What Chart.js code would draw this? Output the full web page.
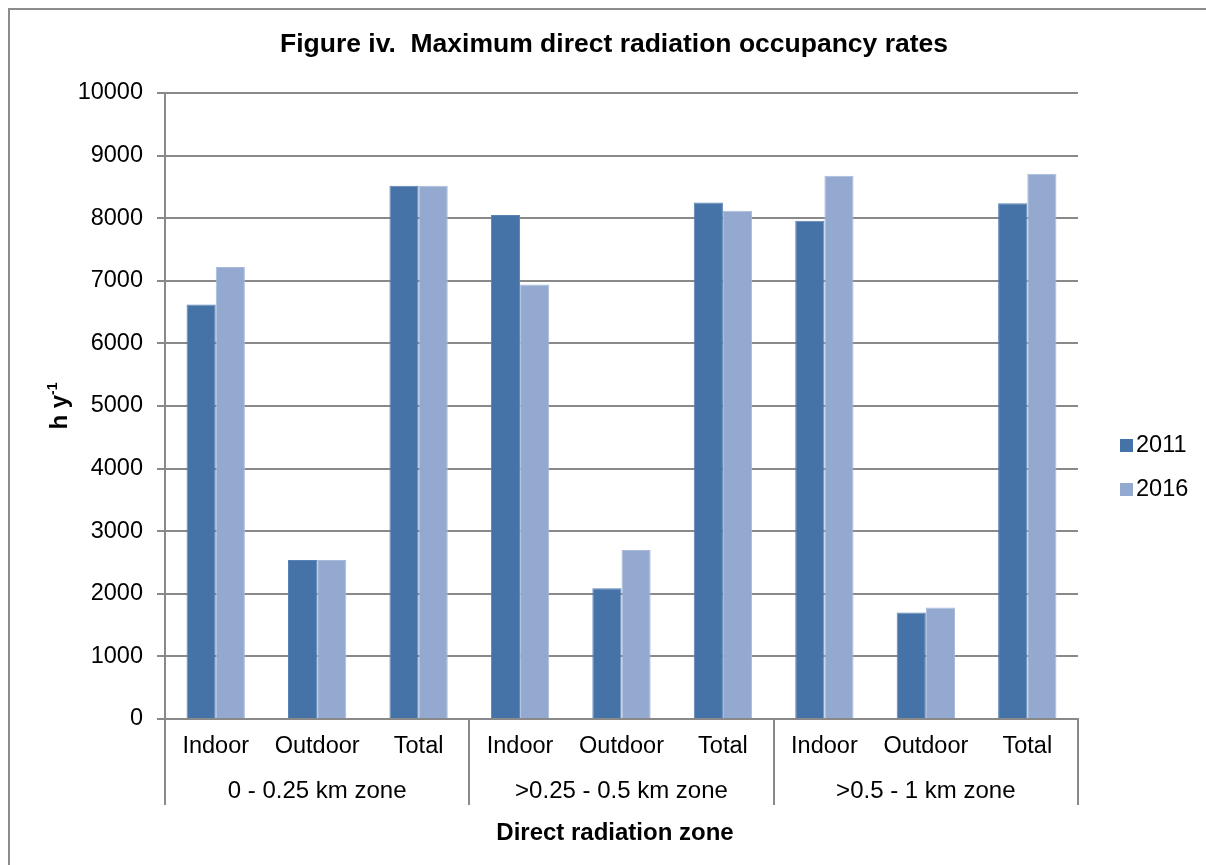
<!DOCTYPE html>
<html>
<head>
<meta charset="utf-8">
<title>Maximum direct radiation occupancy rates</title>
<script src="https://cdn.jsdelivr.net/npm/chart.js@4/dist/chart.umd.min.js"></script>
<style>
  html, body { margin: 0; padding: 0; background: #ffffff; }
  #wrap { width: 1206px; height: 865px; position: relative; }
</style>
</head>
<body>
<div id="wrap"><canvas id="chart" width="1206" height="865"></canvas></div>
<script>
// ---- data ----
const zones = ['0 - 0.25 km zone', '>0.25 - 0.5 km zone', '>0.5 - 1 km zone'];
const settings = ['Indoor', 'Outdoor', 'Total'];
const seriesNames = ['2011', '2016'];
const hours2011 = [6620, 2540, 8520, 8050, 2090, 8250, 7960, 1700, 8240];
const hours2016 = [7220, 2540, 8520, 6940, 2700, 8120, 8680, 1780, 8710];
const yMin = 0, yMax = 10000, yStep = 1000;

const chartTitle = 'Figure iv.  Maximum direct radiation occupancy rates';
const xTitle = 'Direct radiation zone';
const yTitleMain = 'h y';
const yTitleSup = '-1';

// ---- styling ----
const FONT = "'Liberation Sans', Arial, Helvetica, sans-serif";
const GRID = '#898989';
const COLOR_2011 = '#4572a7';
const COLOR_2016 = '#94a9d0';

const categoryLabels = zones.flatMap(() => settings);

// Outer frame, titles, zone labels with separators, and the legend
const decorations = {
  id: 'decorations',
  beforeDraw(chart) {
    const ctx = chart.ctx;
    ctx.save();
    ctx.fillStyle = '#ffffff';
    ctx.fillRect(0, 0, chart.width, chart.height);
    ctx.strokeStyle = '#8c8c8c';
    ctx.lineWidth = 2;
    ctx.strokeRect(9, 9, chart.width + 40, chart.height + 40);
    ctx.restore();
  },
  afterDraw(chart) {
    const ctx = chart.ctx;
    const area = chart.chartArea;
    const xs = chart.scales.x;
    const n = settings.length;
    const step = xs.getPixelForValue(1) - xs.getPixelForValue(0);
    ctx.save();

    // chart title
    ctx.fillStyle = '#000000';
    ctx.textAlign = 'center';
    ctx.textBaseline = 'middle';
    ctx.font = `bold 26.5px ${FONT}`;
    ctx.fillText(chartTitle, 614, 45);

    // zone separators below the axis
    ctx.strokeStyle = GRID;
    ctx.lineWidth = 2;
    for (let g = 0; g <= zones.length; g++) {
      const px = g < zones.length
        ? xs.getPixelForValue(g * n) - step / 2
        : xs.getPixelForValue(zones.length * n - 1) + step / 2;
      const x = Math.round(px);
      ctx.beginPath();
      ctx.moveTo(x, area.bottom);
      ctx.lineTo(x, area.bottom + 86);
      ctx.stroke();
    }

    // zone labels
    ctx.font = `24px ${FONT}`;
    zones.forEach((z, i) => {
      const cx = (xs.getPixelForValue(i * n) + xs.getPixelForValue(i * n + n - 1)) / 2;
      ctx.fillText(z, cx, area.bottom + 72);
    });

    // x-axis title
    ctx.font = `bold 24px ${FONT}`;
    ctx.fillText(xTitle, 615, area.bottom + 114);

    // y-axis title with superscript
    ctx.save();
    ctx.translate(67, (area.top + area.bottom) / 2);
    ctx.rotate(-Math.PI / 2);
    ctx.textAlign = 'left';
    ctx.textBaseline = 'alphabetic';
    ctx.font = `bold 24px ${FONT}`;
    const wMain = ctx.measureText(yTitleMain).width;
    ctx.font = `bold 14px ${FONT}`;
    const wSup = ctx.measureText(yTitleSup).width;
    const start = -(wMain + wSup) / 2;
    ctx.font = `bold 24px ${FONT}`;
    ctx.fillText(yTitleMain, start, 0);
    ctx.font = `bold 14px ${FONT}`;
    ctx.fillText(yTitleSup, start + wMain, -10);
    ctx.restore();

    // legend
    const legendX = area.right + 42;
    const legendMid = (area.top + area.bottom) / 2 + 61;
    ctx.font = `23.5px ${FONT}`;
    ctx.textAlign = 'left';
    ctx.textBaseline = 'middle';
    chart.data.datasets.forEach((ds, i) => {
      const cy = legendMid + (i - 0.5) * 44;
      ctx.fillStyle = ds.backgroundColor;
      ctx.fillRect(legendX, Math.round(cy - 6.5), 13, 13);
      ctx.fillStyle = '#000000';
      ctx.fillText(ds.label, legendX + 16, cy + 1);
    });

    ctx.restore();
  }
};

new Chart(document.getElementById('chart'), {
  type: 'bar',
  data: {
    labels: categoryLabels,
    datasets: [
      {
        label: seriesNames[0],
        data: hours2011,
        backgroundColor: COLOR_2011,
        borderColor: '#5a83b3',
        borderWidth: 1,
        categoryPercentage: 0.575,
        barPercentage: 1.0
      },
      {
        label: seriesNames[1],
        data: hours2016,
        backgroundColor: COLOR_2016,
        borderColor: '#a9badb',
        borderWidth: 1,
        categoryPercentage: 0.575,
        barPercentage: 1.0
      }
    ]
  },
  options: {
    responsive: false,
    animation: false,
    devicePixelRatio: 1,
    layout: { padding: { top: 93, left: 0, right: 128, bottom: 0 } },
    plugins: {
      legend: { display: false },
      title: { display: false },
      tooltip: { enabled: false }
    },
    scales: {
      x: {
        type: 'category',
        offset: true,
        grid: { display: false, drawTicks: false, tickLength: 0 },
        border: { display: true, color: GRID, width: 2 },
        ticks: {
          color: '#000000',
          padding: 13,
          maxRotation: 0,
          autoSkip: false,
          font: { family: FONT, size: 23.5 }
        },
        afterFit(scale) { scale.height = 146; }
      },
      y: {
        min: yMin,
        max: yMax,
        grid: { color: GRID, lineWidth: 2, tickLength: 8, drawTicks: true },
        border: { display: true, color: GRID, width: 2 },
        ticks: {
          stepSize: yStep,
          color: '#000000',
          padding: 14,
          font: { family: FONT, size: 23.5 },
          callback: (value) => String(value)
        },
        afterFit(scale) { scale.width = 165; }
      }
    }
  },
  plugins: [decorations]
});
</script>
</body>
</html>
